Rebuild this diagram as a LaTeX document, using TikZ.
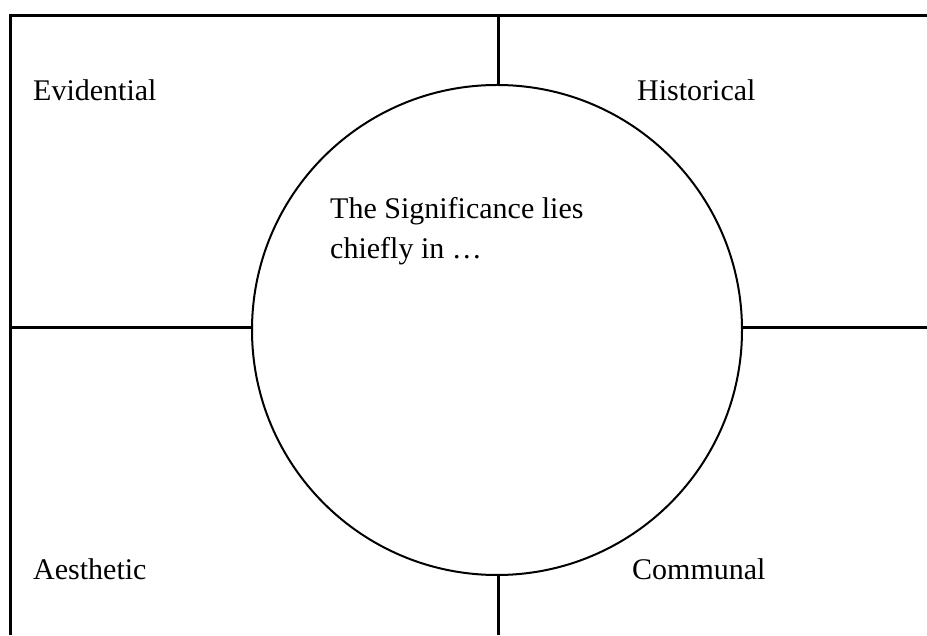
\documentclass[tikz,border=0pt]{standalone}
\usepackage{fontspec}
\setmainfont{Liberation Serif}
\tikzset{
  frameline/.style={line width=3pt},
  label/.style={anchor=base west, inner sep=0pt, font=\fontsize{30}{40}\selectfont}
}
\begin{document}
\begin{tikzpicture}[x=1pt,y=1pt]
\useasboundingbox (0,0) rectangle (927,635);
\node[circle, draw, line width=2pt, minimum size=490pt, inner sep=0pt] (circ) at (497,305) {};
\coordinate (tl) at (10.5,619.5);
\coordinate (tr) at (927,619.5);
\coordinate (bl) at (10.5,0);
\coordinate (tm) at (498.5,619.5);
\coordinate (bm) at (498.5,0);
\coordinate (ml) at (10.5,307.5);
\coordinate (mr) at (927,307.5);
\draw[frameline] (tr) -- (tl) -- (bl);
\draw[frameline] (tm) -- (tm |- circ.north);
\draw[frameline] (bm) -- (bm |- circ.south);
\draw[frameline] (ml) -- (circ.west |- ml);
\draw[frameline] (mr) -- (circ.east |- mr);
\node[label] (evid) at (33,534) {Evidential};
\node[label] (hist) at (637,534) {Historical};
\node[label, anchor=north west, align=left] (sig) at (330,437.5) {The Significance lies\\chiefly in \ldots};
\node[label] (aest) at (33,56) {Aesthetic};
\node[label] (comm) at (632,56) {Communal};
\end{tikzpicture}
\end{document}
